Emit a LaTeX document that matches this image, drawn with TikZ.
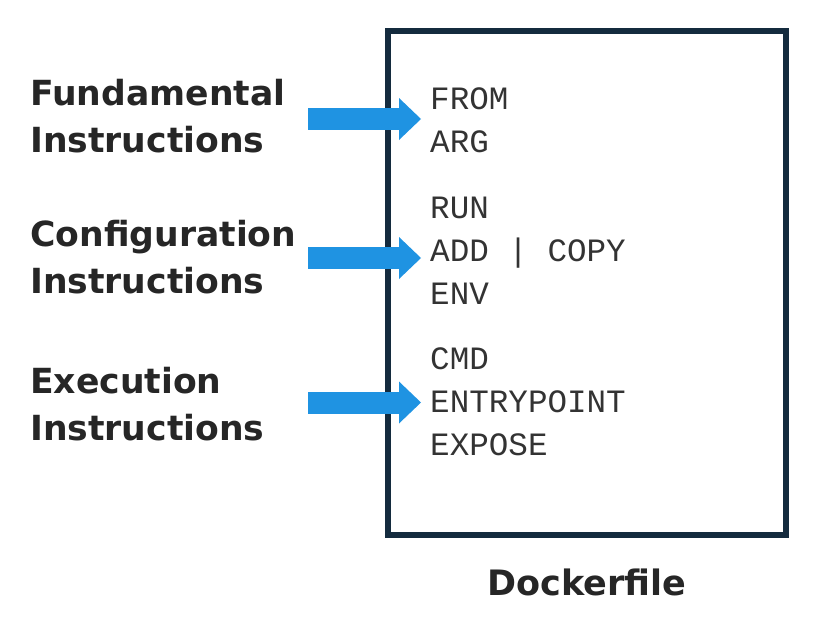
\documentclass[tikz,border=0pt]{standalone}
\usepackage{fontspec}
\setmainfont{DejaVu Sans}
\setmonofont{Liberation Mono}
\usetikzlibrary{arrows.meta}
\definecolor{boxnavy}{HTML}{142B3E}
\definecolor{arrowblue}{HTML}{1F93E2}
\begin{document}
\begin{tikzpicture}[x=1pt,y=-1pt,
  label node/.style={anchor=base west,inner sep=0pt,align=left,text=black!85,font=\bfseries\fontsize{34.6}{47}\selectfont},
  code node/.style={anchor=base west,inner sep=0pt,align=left,text=black!80,font=\ttfamily\fontsize{32.6}{42.8}\selectfont},
  big arrow/.style={arrowblue,line width=22pt,-{Triangle[width=42pt,length=22pt,line width=0pt]}}]
  \useasboundingbox (0,0) rectangle (822,624);

  \node[draw=boxnavy,line width=6.5pt,minimum width=398pt,minimum height=504pt,inner sep=0pt] (dockerbox) at (587,283) {};
  \node[anchor=base,inner sep=0pt,text=black!85,font=\bfseries\fontsize{35}{42}\selectfont] (dockertitle) at (587,595) {Dockerfile};

  \node[label node] (fund) at (30,152) {Fundamental\\Instructions};
  \node[label node] (config) at (30,293) {Configuration\\Instructions};
  \node[label node] (exec) at (30,440) {Execution\\Instructions};

  \node[code node] (fundcode) at (430,152) {FROM\\ARG};
  \node[code node] (configcode) at (430,304) {RUN\\ADD | COPY\\ENV};
  \node[code node] (execcode) at (430,455) {CMD\\ENTRYPOINT\\EXPOSE};

  \coordinate (fundtail) at (308,119);
  \coordinate (fundhead) at (421,119);
  \coordinate (configtail) at (308,258);
  \coordinate (confighead) at (421,258);
  \coordinate (exectail) at (308,402.5);
  \coordinate (exechead) at (421,402.5);

  \path[big arrow]
    (fundtail) edge (fundhead)
    (configtail) edge (confighead)
    (exectail) edge (exechead);
\end{tikzpicture}
\end{document}
